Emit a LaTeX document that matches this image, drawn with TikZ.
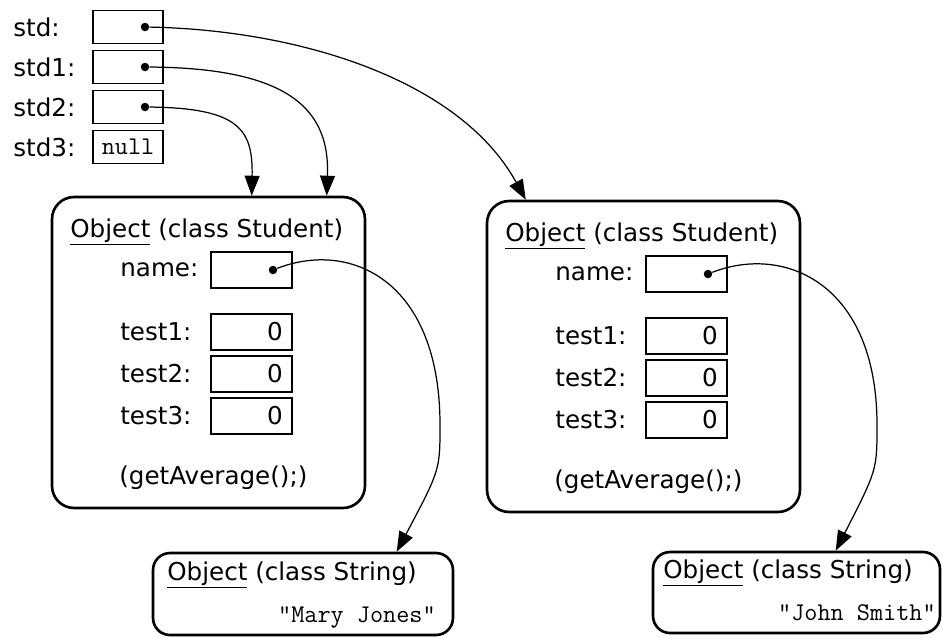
\documentclass[tikz,border=0pt]{standalone}
\usepackage{fontspec}
\setmainfont{DejaVu Sans}
\usetikzlibrary{calc, arrows.meta}

\begin{document}
\begin{tikzpicture}[x=0.02cm, y=-0.02cm, font=\fontsize{14pt}{17pt}\selectfont, inner sep=0pt,
  cell/.style={draw, line width=0.7pt, minimum width=1.4cm, minimum height=0.66cm},
  field/.style={draw, line width=0.7pt, minimum width=1.62cm, minimum height=0.72cm},
  obj/.style={draw, line width=1.5pt, rounded corners=0.44cm},
  ptr/.style={circle, fill, minimum size=0.17cm},
  ref/.style={line width=0.7pt, -{Triangle[length=0.4cm, width=0.3cm]}},
  lit/.style={font=\fontsize{14.5pt}{17pt}\selectfont\ttfamily}]

\useasboundingbox (0,0) rectangle (943,637);

% variables
\foreach \var/\y in {std/27, std1/67, std2/107, std3/147} {
  \node[anchor=west] (\var lbl) at (13,\y) {\var:};
  \node[cell] (\var) at (128,\y) {};
}
\foreach \var/\y in {std/27, std1/67, std2/107}
  \node[ptr] (\var dot) at (145,\y) {};
\node[lit] (nullval) at (std3) {null};

% the two Student objects
\foreach \side/\ox/\oy in {l/0/0, r/435/4} {
\begin{scope}[shift={(\ox,\oy)}]
  \node[obj, minimum width=6.26cm, minimum height=6.22cm] (\side stu) at (208.5,352.5) {};
  \node[anchor=west] (\side head) at (70,232) {\underline{Object} (class Student)};
  \node[anchor=west] (\side namelbl) at (120,270) {name:};
  \node[field] (\side name) at (251.5,270) {};
  \node[ptr] (\side namedot) at (273,270) {};
  \foreach \fld/\fy in {test1/332, test2/374, test3/416} {
    \node[anchor=west] (\side\fld lbl) at (120,\fy) {\fld:};
    \node[field] (\side\fld) at (251.5,\fy) {};
    \node[anchor=east] (\side\fld val) at (283,\fy) {0};
  }
  \node[anchor=west] (\side method) at (119,478) {(getAverage();)};
\end{scope}
}

% the two String objects
\node[obj, rounded corners=0.34cm, minimum width=6cm, minimum height=1.64cm] (lstr) at (303,594) {};
\node[anchor=west] (lstrhead) at (167,575) {\underline{Object} (class String)};
\node[lit, anchor=east] (lstrval) at (436,617) {"Mary Jones"};

\node[obj, rounded corners=0.34cm, minimum width=5.74cm, minimum height=1.62cm] (rstr) at (796.5,592.5) {};
\node[anchor=west] (rstrhead) at (663,573) {\underline{Object} (class String)};
\node[lit, anchor=east] (rstrval) at (936,613) {"John Smith"};

% references
\draw[ref] (stddot) .. controls (300,30) and (460,80) .. ($(rstu.north west)+(40,0)$);
\draw[ref] (std1dot) .. controls (290,68) and (330,110) .. ($(lstu.north west)+(276,0)$);
\draw[ref] (std2dot) .. controls (240,108) and (253,130) .. ($(lstu.north west)+(201,0)$);

\coordinate (lbend) at (440,425);
\coordinate (rbend) at (877,425);
\draw[ref] (lnamedot) .. controls (350,240) and (440,280) .. (lbend)
  .. controls (440,470) .. ($(lstr.north west)+(245,0)$);
\draw[ref] (rnamedot) .. controls (785,244) and (877,284) .. (rbend)
  .. controls (877,470) .. ($(rstr.north west)+(184,0)$);

\end{tikzpicture}
\end{document}
